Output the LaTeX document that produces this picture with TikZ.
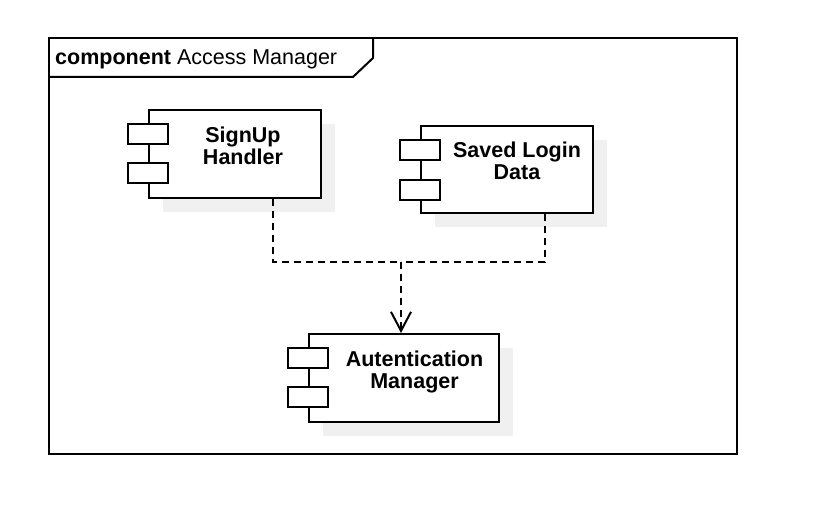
\documentclass[tikz,border=0pt]{standalone}
\usepackage{fontspec}
\setmainfont{Liberation Sans}
\usetikzlibrary{arrows.meta,calc}
\definecolor{shadowc}{RGB}{240,240,240}
\tikzset{
  x=1pt, y=-1pt,
  frameline/.style={line width=2pt, draw=black},
  compbox/.style={draw=black, line width=2pt, fill=white, rectangle, inner sep=0pt, minimum height=88pt},
  port/.style={draw=black, line width=2pt, fill=white, rectangle, inner sep=0pt, minimum width=40pt, minimum height=20pt},
  shade/.style={fill=shadowc, draw=none},
  lbl/.style={font=\fontsize{21.5}{22}\selectfont\bfseries, align=center, inner sep=0pt},
  dep/.style={line width=2pt, dash pattern=on 7pt off 5pt},
}
\begin{document}
\begin{tikzpicture}
\useasboundingbox (0,0) rectangle (816,516);
% frame
\draw[frameline] (49,38) rectangle (737,454);
\draw[frameline] (49,77) -- (353,77) -- (373,58) -- (373,38);
\node[anchor=base west, inner sep=0pt, font=\fontsize{21.5}{22}\selectfont] (title) at (55,65) {\textbf{component} Access Manager};

% shadows
\fill[shade] (163,124) rectangle (335,212);
\fill[shade] (435,140) rectangle (607,227);
\fill[shade] (323,348) rectangle (513,436);

% components
\node[compbox, minimum width=172pt] (su) at (235,154) {};
\node[port] (su1) at (su.north west |- 0,134) {};
\node[port] (su2) at (su.north west |- 0,173) {};
\node[lbl] (sut) at (243,146) {SignUp\\Handler};

\node[compbox, minimum width=172pt, minimum height=87pt] (sl) at (507,169.5) {};
\node[port] (sl1) at (sl.north west |- 0,150) {};
\node[port] (sl2) at (sl.north west |- 0,190) {};
\node[lbl] (slt) at (517,161) {Saved Login\\Data};

\node[compbox, minimum width=190pt] (am) at (404,378) {};
\node[port] (am1) at (am.north west |- 0,358) {};
\node[port] (am2) at (am.north west |- 0,397) {};
\node[lbl] (amt) at (414.5,372) {Autentication\\Manager};

% connectors
\coordinate (j) at (401,262);
\draw[dep] ([xshift=38pt]su.south) |- (j);
\draw[dep] ([xshift=38pt]sl.south) |- (j);
\draw[dep, -{Straight Barb[length=19pt,width=20pt,line width=2pt]}] (j) -- (j |- am.north);
\end{tikzpicture}
\end{document}
